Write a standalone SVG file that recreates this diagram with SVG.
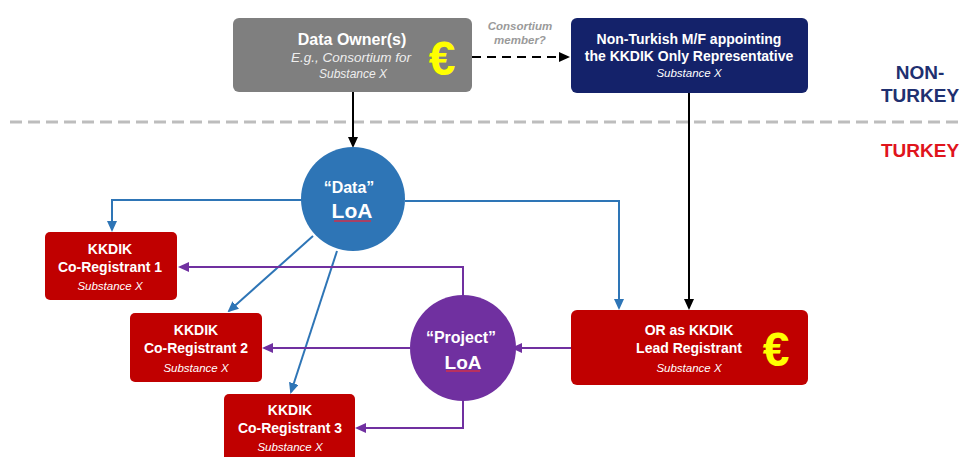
<svg xmlns="http://www.w3.org/2000/svg" width="960" height="457" viewBox="0 0 960 457">
<style>
text{font-family:"Liberation Sans",Arial,sans-serif;text-anchor:middle}
.t{fill:#fff;font-weight:bold;font-size:14px}
.s{fill:#fff;font-style:italic;font-size:11.5px}
.e{fill:#ffff00;font-weight:bold;font-size:48px}
.blue{stroke:#2e75b6;stroke-width:2;fill:none}
.purp{stroke:#7030a0;stroke-width:2;fill:none}
.blk{stroke:#000;stroke-width:2;fill:none}
.lbl{font-size:11.5px;font-style:italic;font-weight:bold;fill:#9a9a9a}
</style>
<defs>
<marker id="ab" markerWidth="11" markerHeight="10" refX="9" refY="5" orient="auto" markerUnits="userSpaceOnUse"><path d="M0,0 L11,5 L0,10 Z" fill="#2e75b6"/></marker>
<marker id="ap" markerWidth="11" markerHeight="10" refX="9" refY="5" orient="auto" markerUnits="userSpaceOnUse"><path d="M0,0 L11,5 L0,10 Z" fill="#7030a0"/></marker>
<marker id="ak" markerWidth="11" markerHeight="10" refX="9" refY="5" orient="auto" markerUnits="userSpaceOnUse"><path d="M0,0 L11,5 L0,10 Z" fill="#000"/></marker>
</defs>
<rect width="960" height="457" fill="#fff"/>
<line x1="10" y1="122" x2="960" y2="122" stroke="#bdbdbd" stroke-width="3" stroke-dasharray="12 6"/>
<text x="920" y="79" font-size="19" font-weight="bold" fill="#1f3070">NON-</text>
<text x="920" y="102" font-size="19" font-weight="bold" fill="#1f3070">TURKEY</text>
<text x="920" y="157" font-size="19" font-weight="bold" fill="#e0141c">TURKEY</text>
<g id="connectors">
<line class="blk" x1="353" y1="92" x2="353" y2="146" marker-end="url(#ak)"/>
<line class="blk" x1="689" y1="93" x2="689" y2="308" marker-end="url(#ak)"/>
<line class="blk" x1="472" y1="57" x2="568" y2="57" stroke-dasharray="9 6" marker-end="url(#ak)"/>
<text class="lbl" x="520" y="30">Consortium</text>
<text class="lbl" x="520" y="44">member?</text>
<path class="blue" d="M302,200 H112 V230" marker-end="url(#ab)"/>
<path class="blue" d="M405,201 H619 V308" marker-end="url(#ab)"/>
<path class="blue" d="M313,236 L229,311" marker-end="url(#ab)"/>
<path class="blue" d="M337,251 L291,392" marker-end="url(#ab)"/>
<path class="purp" d="M463,295 V267 H180" marker-end="url(#ap)"/>
<path class="purp" d="M410,348 H264" marker-end="url(#ap)"/>
<path class="purp" d="M463,401 V428 H357" marker-end="url(#ap)"/>
<path class="purp" d="M571,348 H513" marker-end="url(#ap)"/>
</g>
<g id="dataOwner">
<rect x="233" y="18" width="239" height="74" rx="6" fill="#7f7f7f"/>
<text x="352" y="45" fill="#fff" font-weight="bold" font-size="16">Data Owner(s)</text>
<text x="351" y="62" fill="#eee" font-style="italic" font-size="13.5">E.g., Consortium for</text>
<text x="353" y="78" fill="#eee" font-style="italic" font-size="12">Substance X</text>
<text class="e" x="442" y="75">€</text>
</g>
<g id="onlyRep">
<rect x="571" y="18" width="237" height="75" rx="6" fill="#14226a"/>
<text class="t" x="689" y="44">Non-Turkish M/F appointing</text>
<text class="t" x="689" y="61">the KKDIK Only Representative</text>
<text class="s" x="689" y="77">Substance X</text>
</g>
<g id="dataLoA">
<circle cx="353" cy="199" r="52" fill="#2e75b6"/>
<text x="349" y="193" fill="#fff" font-weight="bold" font-size="16">“Data”</text>
<text x="352" y="218" fill="#fff" font-weight="bold" font-size="21">LoA</text>
<line x1="334" y1="221" x2="371" y2="221" stroke="#d0304a" stroke-width="1.5"/>
</g>
<g id="projectLoA">
<circle cx="463" cy="348" r="53" fill="#7030a0"/>
<text x="461" y="343" fill="#fff" font-weight="bold" font-size="16">“Project”</text>
<text x="463" y="369" fill="#fff" font-weight="bold" font-size="19">LoA</text>
<line x1="446" y1="371" x2="480" y2="371" stroke="#d0304a" stroke-width="1.5"/>
</g>
<g id="coReg1">
<rect x="45" y="232" width="132" height="68" rx="5" fill="#c00000"/>
<text class="t" x="110" y="254">KKDIK</text>
<text class="t" x="110" y="272">Co-Registrant 1</text>
<text class="s" x="110" y="290">Substance X</text>
</g>
<g id="coReg2">
<rect x="130" y="313" width="132" height="69" rx="5" fill="#c00000"/>
<text class="t" x="196" y="335">KKDIK</text>
<text class="t" x="196" y="353">Co-Registrant 2</text>
<text class="s" x="196" y="372">Substance X</text>
</g>
<g id="coReg3">
<rect x="224" y="394" width="131" height="70" rx="5" fill="#c00000"/>
<text class="t" x="290" y="415">KKDIK</text>
<text class="t" x="290" y="433">Co-Registrant 3</text>
<text class="s" x="290" y="451">Substance X</text>
</g>
<g id="leadReg">
<rect x="571" y="310" width="237" height="75" rx="6" fill="#c00000"/>
<text class="t" x="689" y="335">OR as KKDIK</text>
<text class="t" x="689" y="353">Lead Registrant</text>
<text class="s" x="689" y="372">Substance X</text>
<text class="e" x="776" y="366">€</text>
</g>
</svg>
